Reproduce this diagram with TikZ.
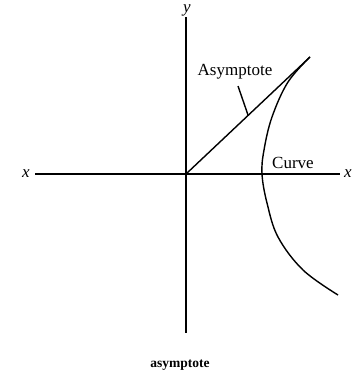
\documentclass[tikz,border=0pt]{standalone}
\usepackage{fontspec}
\setmainfont{Liberation Serif}
\begin{document}
\begin{tikzpicture}[x=1pt,y=-1pt,
  axis/.style={line width=2pt},
  thin line/.style={line width=1.4pt},
  lab/.style={inner sep=0pt,font=\fontsize{17}{20}\selectfont},
  cap label/.style={inner sep=0pt,font=\fontsize{13.5}{16}\selectfont\bfseries}]
\useasboundingbox (0,0) rectangle (356,374);
\coordinate (O) at (186,174);
\coordinate (xl) at (35,174);
\coordinate (xr) at (340,174);
\coordinate (yt) at (186,17);
\coordinate (yb) at (186,333);
\coordinate (A) at (310,57);
\coordinate (lead1) at (238,86);
\coordinate (lead2) at (248,115);
\draw[axis] (xl) -- (xr);
\draw[axis] (yt) -- (yb);
\draw[thin line] (O) -- (A);
\draw[thin line] plot[smooth,tension=0.6] coordinates {(310,57) (288,82) (272,117) (264,150) (262,174) (267,203) (278,237) (303,270) (338,295)};
\draw[thin line] (lead1) -- (lead2);
\node[lab] (xleft) at (26,174) {\itshape x};
\node[lab] (xright) at (348,174) {\itshape x};
\node[lab,anchor=north] (ylab) at (187,5) {\itshape y};
\node[lab] (asy) at (235,72) {Asymptote};
\node[lab] (curve) at (293,163) {Curve};
\node[cap label] (cap) at (180,365) {asymptote};
\end{tikzpicture}
\end{document}
